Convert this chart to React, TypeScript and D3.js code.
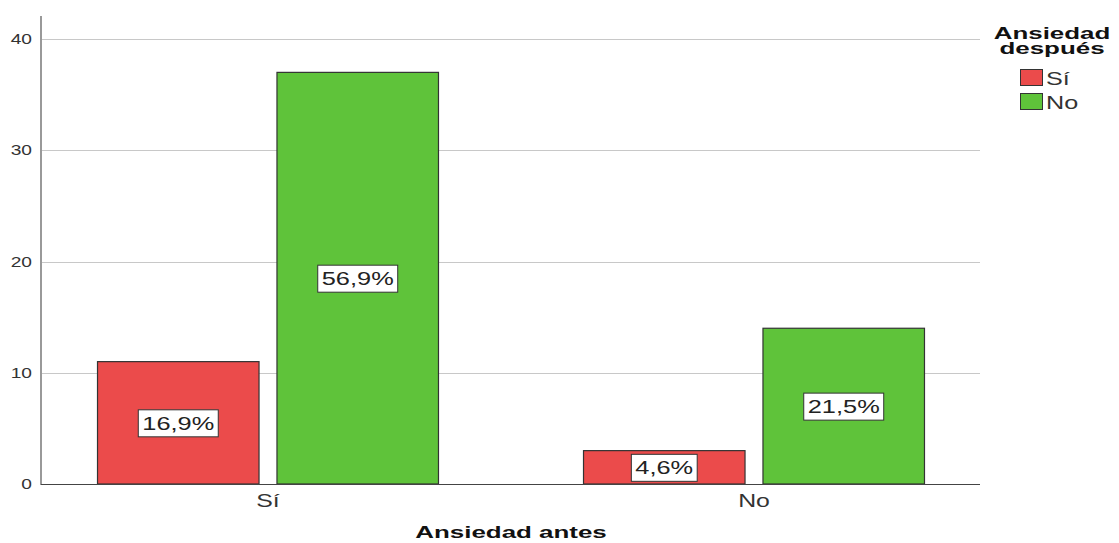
import { useEffect, useRef } from 'react';
import * as d3 from 'd3';

const categories = ['Sí', 'No'];
const series = ['Sí', 'No'];
// counts per category (Ansiedad antes), per series (Ansiedad después)
const siValues = [11, 3];
const noValues = [37, 14];
const yTicks = [0, 10, 20, 30, 40];
const colors = ['#eb4b4b', '#5fc33a'];

const W = 1119;
const H = 543;
const FONT = '"Liberation Sans", Arial, sans-serif';

type Sel = d3.Selection<any, any, any, any>;

// SPSS renders its text wider than Liberation Sans, so stretch it horizontally
const addText = (
  parent: Sel,
  x: number,
  y: number,
  txt: string,
  opts: { size: number; sx: number; anchor?: string; bold?: boolean; fill?: string }
) =>
  parent
    .append('text')
    .attr('transform', `translate(${x},${y}) scale(${opts.sx},1)`)
    .attr('text-anchor', opts.anchor || 'start')
    .attr('font-family', FONT)
    .attr('font-size', opts.size)
    .attr('font-weight', opts.bold ? 'bold' : 'normal')
    .attr('fill', opts.fill || '#333')
    .text(txt);

const App = () => {
  const svgRef = useRef<SVGSVGElement>(null);

  useEffect(() => {
    if (!svgRef.current) return;
    const svg = d3.select(svgRef.current);
    svg.selectAll('*').remove();

    const total = d3.sum(siValues) + d3.sum(noValues);
    const rows = categories.map((c, i) => ({
      cat: c,
      values: [siValues[i], noValues[i]],
    }));

    const axisX = 41;
    const plotRight = 980;

    const y = d3.scaleLinear().domain([0, 40]).range([484, 39]);
    const x0 = d3
      .scaleBand<string>()
      .domain(categories)
      .range([25, 997])
      .paddingInner(0.2984)
      .paddingOuter(0.1492);
    const x1 = d3
      .scaleBand<string>()
      .domain(series)
      .range([0, x0.bandwidth()])
      .paddingInner(0.1);

    // gridlines
    svg
      .append('g')
      .selectAll('line')
      .data(yTicks.filter((t) => t > 0))
      .join('line')
      .attr('x1', axisX)
      .attr('x2', plotRight)
      .attr('y1', (d) => Math.round(y(d)) + 0.5)
      .attr('y2', (d) => Math.round(y(d)) + 0.5)
      .attr('stroke', '#c8c8c8')
      .attr('stroke-width', 1);

    // tick labels
    const tickG = svg.append('g');
    yTicks.forEach((t) =>
      addText(tickG, 32, y(t) + 5, String(t), { size: 15, sx: 1.28, anchor: 'end' })
    );

    // bars
    const groups = svg
      .append('g')
      .selectAll('g')
      .data(rows)
      .join('g')
      .attr('transform', (d) => `translate(${x0(d.cat)},0)`);

    const bars = groups
      .selectAll('g')
      .data((d) => d.values.map((v, i) => ({ key: series[i], v, i })))
      .join('g');

    bars
      .append('rect')
      .attr('x', (d) => x1(d.key)!)
      .attr('y', (d) => y(d.v))
      .attr('width', x1.bandwidth())
      .attr('height', (d) => y(0) - y(d.v))
      .attr('fill', (d) => colors[d.i])
      .attr('stroke', '#333')
      .attr('stroke-width', 1.2);

    const labels = bars.append('g').attr('transform', (d) => {
      const cx = x1(d.key)! + x1.bandwidth() / 2;
      const cy = (y(d.v) + y(0)) / 2;
      return `translate(${cx},${cy})`;
    });

    labels.each(function (d) {
      const g = d3.select(this);
      const txt = ((d.v / total) * 100).toFixed(1).replace('.', ',') + '%';
      const sx = 1.41;
      const t = addText(g, 0, 7, txt, { size: 18, sx, anchor: 'middle', fill: '#222' });
      const bb = (t.node() as SVGTextElement).getBBox();
      const w = bb.width * sx;
      g.insert('rect', 'text')
        .attr('x', -w / 2 - 4)
        .attr('y', -13)
        .attr('width', w + 8)
        .attr('height', 27)
        .attr('fill', '#fff')
        .attr('stroke', '#333')
        .attr('stroke-width', 1);
    });

    // axes lines
    svg
      .append('line')
      .attr('x1', axisX)
      .attr('x2', axisX)
      .attr('y1', 16)
      .attr('y2', 485)
      .attr('stroke', '#999')
      .attr('stroke-width', 2);
    svg
      .append('line')
      .attr('x1', axisX)
      .attr('x2', plotRight)
      .attr('y1', 484.5)
      .attr('y2', 484.5)
      .attr('stroke', '#444')
      .attr('stroke-width', 1);

    // category labels
    const catG = svg.append('g');
    categories.forEach((c) =>
      addText(catG, x0(c)! + x0.bandwidth() / 2, 507, c, {
        size: 18,
        sx: 1.38,
        anchor: 'middle',
      })
    );

    addText(svg, 511, 538, 'Ansiedad antes', {
      size: 16,
      sx: 1.62,
      anchor: 'middle',
      bold: true,
      fill: '#111',
    });

    // legend
    const legend = svg.append('g');
    addText(legend, 1052, 39, 'Ansiedad', {
      size: 16,
      sx: 1.62,
      anchor: 'middle',
      bold: true,
      fill: '#111',
    });
    addText(legend, 1052, 54, 'después', {
      size: 16,
      sx: 1.62,
      anchor: 'middle',
      bold: true,
      fill: '#111',
    });

    series.forEach((s, i) => {
      const item = legend.append('g').attr('transform', `translate(1020,${69 + i * 24})`);
      item
        .append('rect')
        .attr('x', 0.5)
        .attr('y', 0.5)
        .attr('width', 22)
        .attr('height', 16)
        .attr('fill', colors[i])
        .attr('stroke', '#333')
        .attr('stroke-width', 1);
      addText(item, 26, 16, s, { size: 18, sx: 1.4 });
    });
  }, []);

  return (
    <svg
      ref={svgRef}
      width={W}
      height={H}
      style={{ position: 'absolute', left: 0, top: 0, background: '#fff' }}
    />
  );
};

export default App;
